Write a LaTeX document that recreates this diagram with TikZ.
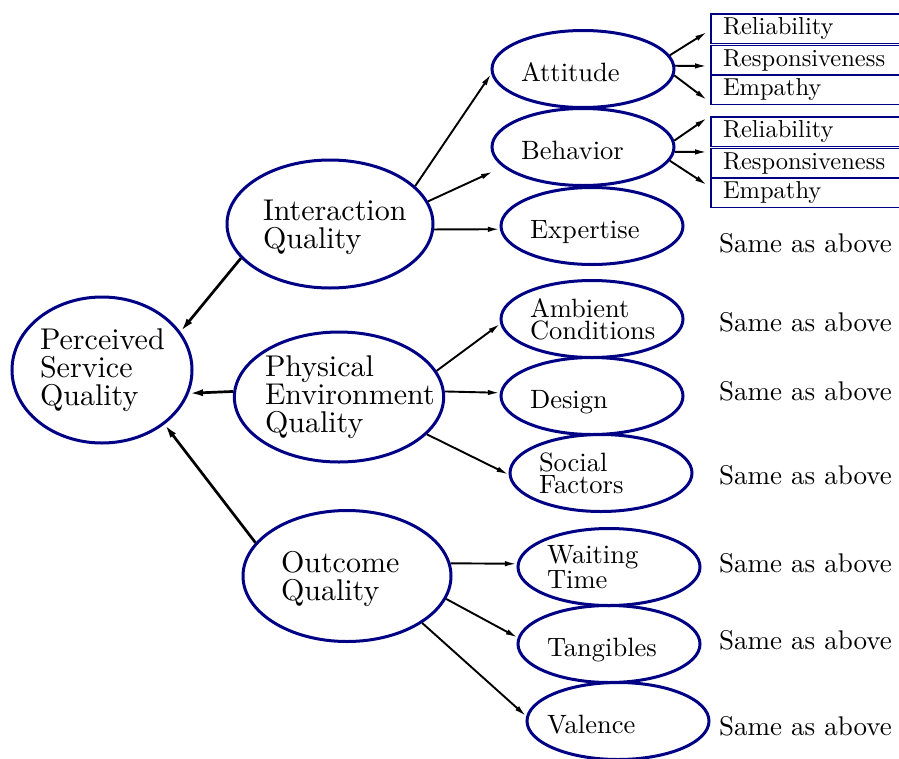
\documentclass[tikz,border=0pt]{standalone}
\usepackage{fontspec}
\setmainfont{lmroman10-regular.otf}
\usepackage{tikz}
\usetikzlibrary{arrows.meta,positioning,shapes.geometric}
\definecolor{navy}{HTML}{000085}
\hyphenpenalty=10000
\exhyphenpenalty=10000

\begin{document}
\begin{tikzpicture}[x=1pt,y=-1pt,
big/.style={ellipse,draw=navy,line width=3pt,inner sep=0pt,align=left,font=\fontsize{30}{28}\selectfont},
small/.style={ellipse,draw=navy,line width=3pt,inner sep=0pt,align=left,text width=124pt,minimum width=182pt,minimum height=77pt,font=\fontsize{26.5}{22}\selectfont},
one/.style={small,text height=24pt,text depth=0pt},
cell/.style={draw=navy,line width=1.4pt,outer sep=0pt,inner xsep=12pt,inner ysep=0pt,text width=176pt,minimum height=29.5pt,align=left,font=\fontsize{24.5}{24}\selectfont},
same/.style={anchor=base west,inner sep=0pt,font=\fontsize{27}{27}\selectfont},
arr/.style={line width=1.9pt,-{Latex[length=12pt,width=5.5pt]}},
arrm/.style={line width=2.7pt,-{Latex[length=14pt,width=7pt]}}
]
\useasboundingbox (0,0) rectangle (899,758);
\clip (0,0) rectangle (899,758);

\node[big,text width=124pt,minimum width=180pt,minimum height=146pt] (psq) at (102,370) {Perceived\\Service\\Quality};
\node[big,text width=134pt,text depth=28pt,minimum width=206pt,minimum height=128pt] (iq) at (330,224) {Interaction\\Quality};
\node[big,text width=148pt,minimum width=208pt,minimum height=130pt] (peq) at (339,397) {Physical\\Environment\\Quality};
\node[big,text width=132pt,text depth=28pt,minimum width=208pt,minimum height=131pt] (oq) at (347,576) {Outcome\\Quality};

\node[one] (att) at (583,69) {Attitude};
\node[one] (beh) at (583,147) {Behavior};
\node[one] (expt) at (592,226) {Expertise};
\node[small] (amb) at (592,319) {Ambient\\Conditions};
\node[one] (des) at (592,396) {Design};
\node[small] (soc) at (601,473) {Social\\Factors};
\node[small] (wait) at (609,567) {Waiting\\Time};
\node[one] (tang) at (609,644) {Tangibles};
\node[one] (val) at (618,721) {\hspace*{-9pt}Valence};

\node[cell,anchor=north west] (rel1) at (711,14) {Reliability};
\node[cell,below=2pt of rel1] (res1) {Responsiveness};
\node[cell,below=0pt of res1] (emp1) {Empathy};
\node[cell,anchor=north west] (rel2) at (711,117) {Reliability};
\node[cell,below=2pt of rel2] (res2) {Responsiveness};
\node[cell,below=0pt of res2] (emp2) {Empathy};

\node[same] (same1) at (719,252) {Same as above};
\node[same] (same2) at (719,331) {Same as above};
\node[same] (same3) at (719,400) {Same as above};
\node[same] (same4) at (719,484) {Same as above};
\node[same] (same5) at (719,572) {Same as above};
\node[same] (same6) at (719,649) {Same as above};
\node[same] (same7) at (719,735) {Same as above};

\draw[arrm] (iq.201) -- (psq.26);
\draw[arrm] (peq.177) -- (psq.345);
\draw[arrm] (oq.160) -- (psq.319);

\draw[arr] (iq.24) -- (att.183);
\draw[arr,shorten >=11pt] (iq.13) -- (beh.194);
\draw[arr] (iq.357) -- (expt.182);
\draw[arr] (peq.15) -- (amb.183);
\draw[arr] (peq.3) -- (des.178);
\draw[arr] (peq.337) -- (soc.181);
\draw[arr] (oq.7) -- (wait.178);
\draw[arr] (oq.347) -- (tang.176);
\draw[arr] (oq.328) -- (val.177);

\draw[arr] (att.9) -- ([xshift=-4pt,yshift=-3.25pt]rel1.west);
\draw[arr] (att.2) -- ([xshift=-4pt,yshift=-5.75pt]res1.west);
\draw[arr] (att.356) -- ([xshift=-4pt,yshift=-10.25pt]emp1.west);
\draw[arr] (beh.4) -- ([xshift=-4pt,yshift=13.75pt]rel2.west);
\draw[arr] (beh.357) -- ([xshift=-4pt,yshift=11.25pt]res2.west);
\draw[arr] (beh.351) -- ([xshift=-4pt,yshift=7.75pt]emp2.west);
\end{tikzpicture}
\end{document}
